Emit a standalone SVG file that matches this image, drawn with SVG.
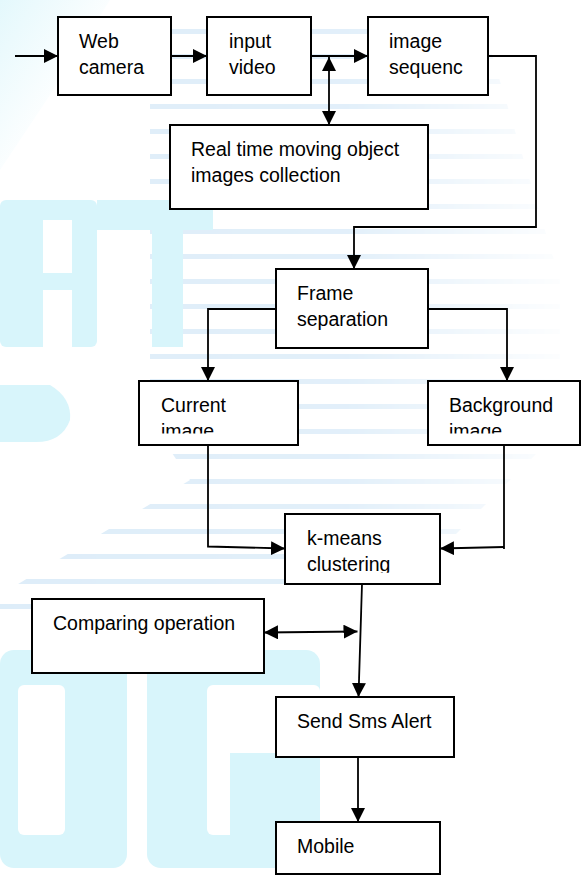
<svg xmlns="http://www.w3.org/2000/svg" width="581" height="876" viewBox="0 0 581 876">
<defs>
<style>
.box{fill:#fff;stroke:#000;stroke-width:2}
.ln{fill:none;stroke:#000;stroke-width:1.8}
.arr{marker-end:url(#ah)}
.dbl{marker-start:url(#ah);marker-end:url(#ah)}
text{font-family:"Liberation Sans",Arial,sans-serif;font-size:19.5px;fill:#000}
.wm{fill:#d8f5fb}
.wmw{fill:#fff}
</style>
<marker id="ah" viewBox="0 0 14 14" refX="14" refY="7" markerWidth="14" markerHeight="14" markerUnits="userSpaceOnUse" orient="auto-start-reverse">
<path d="M0,0 L14,7 L0,14 z" fill="#000"/>
</marker>
<pattern id="stripes" width="20" height="25" patternUnits="userSpaceOnUse">
<rect x="0" y="4" width="20" height="5" fill="#cfe5f6"/>
</pattern>
<linearGradient id="fade" x1="0" y1="0" x2="1" y2="0">
<stop offset="0" stop-color="#fff" stop-opacity="0.7"/>
<stop offset="0.6" stop-color="#fff" stop-opacity="0.6"/>
<stop offset="1" stop-color="#fff" stop-opacity="0"/>
</linearGradient>
<mask id="fm" maskUnits="userSpaceOnUse" x="0" y="0" width="581" height="876">
<rect x="0" y="0" width="581" height="876" fill="url(#fade)"/>
</mask>
<linearGradient id="sw" x1="0" y1="0" x2="1" y2="1">
<stop offset="0" stop-color="#d8f5fb" stop-opacity="0.7"/>
<stop offset="0.6" stop-color="#d8f5fb" stop-opacity="0"/>
</linearGradient>
<clipPath id="c1"><rect x="0" y="0" width="581" height="433.5"/></clipPath>
<clipPath id="c2"><rect x="0" y="0" width="581" height="572.7"/></clipPath>
</defs>
<rect width="581" height="876" fill="#fff"/>
<g id="watermark">
<polygon points="0,0 110,0 60,80 0,170" fill="url(#sw)"/>
<polygon points="170,15 480,15 560,280 560,430 430,560 260,600 0,612 0,595 190,480 150,420 150,100" fill="url(#stripes)" mask="url(#fm)"/>
<rect class="wm" x="0" y="200" width="97" height="147" rx="6"/>
<rect class="wmw" x="43" y="220" width="29" height="53"/>
<rect class="wmw" x="43" y="290" width="29" height="57"/>
<rect class="wm" x="97" y="200" width="116" height="30"/>
<rect class="wm" x="152" y="230" width="31" height="117"/>
<path class="wm" d="M0,385 L50,385 Q72,398 70,420 Q62,442 36,442 L0,442 z"/>
<rect class="wm" x="0" y="650" width="127" height="218" rx="14"/>
<rect class="wmw" x="18" y="685" width="47" height="150" rx="6"/>
<rect class="wm" x="147" y="650" width="173" height="218" rx="14"/>
<rect class="wmw" x="207" y="685" width="113" height="150" rx="6"/>
<rect class="wm" x="230" y="753" width="90" height="82"/>
</g>
<g id="connectors">
<line class="ln arr" x1="15" y1="56" x2="58" y2="56"/>
<line class="ln arr" x1="171" y1="56" x2="207" y2="56"/>
<line class="ln arr" x1="311" y1="56" x2="368" y2="56"/>
<line class="ln dbl" x1="329" y1="57" x2="329" y2="125"/>
<polyline class="ln arr" points="488,56 536,56 536,227 354,227 354,269"/>
<polyline class="ln arr" points="276,309 208,309 208,381"/>
<polyline class="ln arr" points="428,309 507,309 507,381"/>
<polyline class="ln arr" points="208,445 208,546.5 285,548.5"/>
<polyline class="ln" points="504,445 504,549"/>
<line class="ln arr" x1="504" y1="547" x2="440" y2="548.5"/>
<line class="ln arr" x1="362" y1="584" x2="358.5" y2="697"/>
<line class="ln dbl" x1="264" y1="632.5" x2="357.5" y2="631.5"/>
<line class="ln arr" x1="358" y1="757" x2="358" y2="822"/>
</g>
<g id="web-camera">
<rect class="box" x="58" y="17" width="113" height="78"/>
<text x="79" y="48">Web</text>
<text x="79" y="74">camera</text>
</g>
<g id="input-video">
<rect class="box" x="207" y="17" width="104" height="78"/>
<text x="229" y="48">input</text>
<text x="229" y="74">video</text>
</g>
<g id="image-sequence">
<rect class="box" x="368" y="17" width="120" height="78"/>
<text x="389" y="48">image</text>
<text x="389" y="74">sequenc</text>
</g>
<g id="real-time">
<rect class="box" x="170" y="125" width="258" height="84"/>
<text x="191" y="156">Real time moving object</text>
<text x="191" y="182">images collection</text>
</g>
<g id="frame-separation">
<rect class="box" x="276" y="269" width="152" height="79"/>
<text x="297" y="300">Frame</text>
<text x="297" y="326">separation</text>
</g>
<g id="current-image">
<rect class="box" x="139" y="381" width="159" height="64"/>
<text x="161" y="412">Current</text>
<text x="161" y="438" clip-path="url(#c1)">image</text>
</g>
<g id="background-image">
<rect class="box" x="428" y="381" width="152" height="64"/>
<text x="449" y="412">Background</text>
<text x="449" y="438" clip-path="url(#c1)">image</text>
</g>
<g id="kmeans">
<rect class="box" x="285" y="514" width="155" height="70"/>
<text x="307" y="545">k-means</text>
<text x="307" y="571" clip-path="url(#c2)">clustering</text>
</g>
<g id="comparing">
<rect class="box" x="32" y="599" width="232" height="74"/>
<text x="53" y="630">Comparing operation</text>
</g>
<g id="send-sms">
<rect class="box" x="276" y="697" width="178" height="60"/>
<text x="297" y="728">Send Sms Alert</text>
</g>
<g id="mobile">
<rect class="box" x="276" y="822" width="164" height="52"/>
<text x="297" y="853">Mobile</text>
</g>
</svg>
